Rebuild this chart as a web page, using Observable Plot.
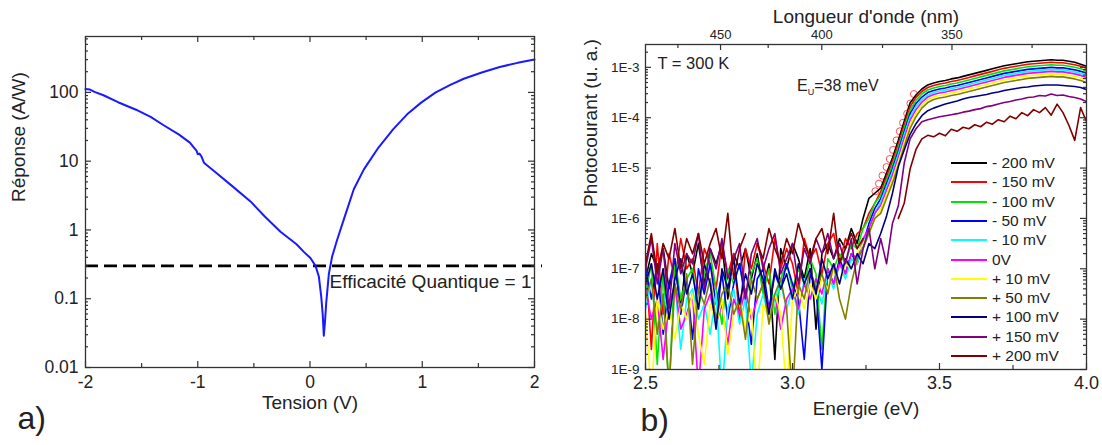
<!DOCTYPE html>
<html><head><meta charset="utf-8">
<script src="https://cdn.jsdelivr.net/npm/d3@7"></script>
<script src="https://cdn.jsdelivr.net/npm/@observablehq/plot@0.6"></script>
<style>
body{margin:0;background:#fff;}
#fig{position:relative;width:1102px;height:445px;overflow:hidden;background:#fff;font-family:'Liberation Sans',Arial,sans-serif;color:#222;}
.panel{position:absolute;top:0;}
.lrow{position:absolute;left:951px;height:20px;display:flex;align-items:center;font-size:15.5px;white-space:nowrap;}
.lrow .sw{display:inline-block;width:36px;height:2px;margin-right:5px;}
#eu{position:absolute;left:797px;top:77px;font-size:16px;line-height:18px;white-space:nowrap;}
#eu sub{font-size:9px;vertical-align:-4px;line-height:0;}
</style></head><body><div id="fig"></div>
<script>
// ---------- Panel a : responsivity vs bias ----------
const tension  = [-2.00,-1.96,-1.92,-1.84,-1.71,-1.55,-1.42,-1.30,-1.17,-1.07,-1.025,-1.01,-1.00,-0.985,-0.967,-0.945,-0.85,-0.69,-0.53,-0.405,-0.263,-0.18,-0.12,-0.055,0.004,0.049,0.079,0.10,0.113,0.123,0.133,0.144,0.168,0.197,0.242,0.30,0.39,0.48,0.61,0.74,0.865,0.99,1.12,1.25,1.37,1.53,1.69,1.85,2.00];
const response = [112,110,102,91,72,56,44,33,24.5,18.6,15.1,14.1,12.6,12.9,11.7,9.5,7.1,4.3,2.6,1.58,0.94,0.74,0.62,0.48,0.39,0.30,0.21,0.107,0.06,0.029,0.045,0.085,0.23,0.41,0.72,1.4,3.9,7.6,15.8,29,48,71,100,129,158,195,234,269,300];
const qeLevel = [0.3];
const tensionTicks = [-2,-1,0,1,2];
const tensionTickLabels = ["-2","-1","0","1","2"];
const tensionMinor = [-1.5,-0.5,0.5,1.5];
const respTicks = [0.01,0.1,1,10,100];
const respTickLabels = ["0.01","0.1","1","10","100"];

// ---------- Panel b : photocurrent spectra (log10 values) ----------
const energy = [2.50,2.52,2.54,2.56,2.58,2.60,2.62,2.64,2.66,2.68,
2.70,2.72,2.74,2.76,2.78,2.80,2.82,2.84,2.86,2.88,
2.90,2.92,2.94,2.96,2.98,3.00,3.02,3.04,3.06,3.08,
3.10,3.12,3.14,3.16,3.18,3.20,3.22,3.24,3.26,3.28,
3.30,3.32,3.34,3.36,3.38,3.40,3.42,3.44,3.46,3.48,
3.50,3.52,3.54,3.56,3.58,3.60,3.62,3.64,3.66,3.68,
3.70,3.72,3.74,3.76,3.78,3.80,3.82,3.84,3.86,3.88,
3.90,3.92,3.94,3.96,3.98,4.00];
const biasLabels = ["- 200 mV","- 150 mV","- 100 mV","- 50 mV","- 10 mV","0V","+ 10 mV","+ 50 mV","+ 100 mV","+ 150 mV","+ 200 mV"];
const biasColors = ["#000000","#ff0000","#00e600","#0000ff","#00ffff","#ff00ff","#ffff00","#808000","#000080","#800080","#800000"];

const pcM200 = [-7.2,-6.7,-7.0,-6.6,-7.4,-6.9,-7.8,-6.7,-7.1,-6.5,-7.3,-6.6,-6.9,-6.5,-7.6,-6.7,-7.0,-6.6,-7.2,-6.7,
-7.4,-6.9,-8.8,-6.6,-7.0,-6.5,-6.8,-7.2,-6.6,-8.2,-6.7,-6.5,-6.8,-6.4,-6.6,-6.2,-6.5,-6.0,-5.6,-5.5,
-5.40,-5.10,-4.80,-4.45,-4.07,-3.71,-3.55,-3.43,-3.35,-3.31,-3.28,-3.26,-3.23,-3.21,-3.18,-3.15,-3.12,-3.09,-3.06,-3.03,
-3.00,-2.97,-2.95,-2.93,-2.91,-2.89,-2.88,-2.87,-2.86,-2.85,-2.86,-2.86,-2.88,-2.90,-2.94,-2.98];
const pcM150 = [-6.8,-8.6,-6.5,-7.9,-6.7,-7.2,-6.4,-7.0,-6.8,-7.5,-6.6,-6.9,-7.4,-6.5,-7.1,-6.7,-8.0,-6.6,-7.0,-6.5,
-6.9,-7.3,-6.4,-7.0,-6.6,-6.9,-7.5,-6.4,-6.8,-6.6,-7.1,-6.5,-6.3,-6.9,-6.4,-6.6,-6.3,-6.2,-5.9,-5.7,
-5.47,-5.17,-4.87,-4.52,-4.14,-3.78,-3.60,-3.48,-3.40,-3.36,-3.33,-3.31,-3.28,-3.26,-3.23,-3.20,-3.17,-3.14,-3.11,-3.08,
-3.05,-3.02,-3.00,-2.98,-2.96,-2.94,-2.93,-2.92,-2.91,-2.90,-2.91,-2.91,-2.93,-2.95,-2.98,-3.02];
const pcM100 = [-7.5,-6.9,-8.9,-7.0,-9.5,-6.8,-7.6,-7.2,-7.0,-7.8,-7.1,-6.7,-7.4,-8.1,-7.0,-7.3,-6.9,-7.6,-7.1,-6.8,
-7.5,-7.0,-7.9,-7.2,-6.9,-7.4,-7.0,-7.3,-6.8,-7.1,-8.6,-6.8,-7.0,-6.7,-6.9,-6.5,-6.6,-6.2,-6.0,-5.7,
-5.54,-5.24,-4.94,-4.59,-4.21,-3.85,-3.66,-3.53,-3.45,-3.41,-3.38,-3.36,-3.33,-3.31,-3.28,-3.25,-3.22,-3.19,-3.16,-3.13,
-3.10,-3.07,-3.05,-3.03,-3.01,-2.99,-2.98,-2.97,-2.96,-2.95,-2.96,-2.96,-2.98,-3.00,-3.03,-3.07];
const pcM50 = [-7.0,-7.6,-6.9,-8.3,-7.3,-6.8,-7.9,-7.2,-8.4,-7.0,-7.5,-6.9,-7.7,-7.1,-8.0,-7.3,-6.9,-7.6,-8.5,-7.2,
-7.0,-7.8,-7.1,-7.4,-6.9,-7.3,-7.6,-8.8,-7.1,-7.4,-9.0,-7.0,-7.3,-6.8,-7.1,-6.7,-6.9,-6.5,-6.1,-5.8,
-5.61,-5.31,-5.01,-4.66,-4.28,-3.92,-3.72,-3.59,-3.50,-3.46,-3.43,-3.41,-3.38,-3.36,-3.33,-3.30,-3.27,-3.24,-3.21,-3.18,
-3.15,-3.12,-3.10,-3.08,-3.06,-3.04,-3.03,-3.02,-3.01,-3.00,-3.01,-3.01,-3.03,-3.05,-3.08,-3.12];
const pcM10 = [-7.8,-7.2,-8.2,-7.5,-7.9,-7.3,-8.6,-7.6,-7.4,-8.0,-7.7,-8.3,-7.5,-9.5,-7.8,-7.4,-8.1,-7.6,-9.3,-7.9,
-7.5,-8.0,-7.6,-7.3,-7.8,-7.4,-7.9,-7.2,-7.6,-7.3,-7.7,-7.1,-7.4,-6.9,-7.2,-6.8,-6.9,-6.5,-6.2,-5.9,
-5.67,-5.37,-5.07,-4.72,-4.34,-3.98,-3.78,-3.64,-3.55,-3.50,-3.47,-3.45,-3.42,-3.40,-3.37,-3.34,-3.31,-3.28,-3.25,-3.22,
-3.19,-3.16,-3.14,-3.12,-3.10,-3.08,-3.07,-3.06,-3.05,-3.04,-3.05,-3.05,-3.07,-3.09,-3.12,-3.16];
const pc0 = [-7.4,-8.0,-7.6,-8.8,-7.7,-7.3,-8.2,-7.9,-7.5,-9.4,-7.8,-7.5,-8.1,-7.7,-8.5,-7.6,-7.9,-7.4,-8.0,-7.6,
-7.3,-7.8,-7.5,-8.2,-7.6,-7.4,-7.8,-7.3,-7.6,-7.2,-7.5,-7.0,-7.3,-6.9,-7.1,-6.7,-6.8,-6.4,-6.2,-5.9,
-5.74,-5.44,-5.14,-4.79,-4.41,-4.05,-3.84,-3.69,-3.59,-3.54,-3.51,-3.49,-3.46,-3.44,-3.41,-3.38,-3.35,-3.32,-3.29,-3.26,
-3.23,-3.20,-3.18,-3.16,-3.14,-3.12,-3.11,-3.10,-3.09,-3.08,-3.09,-3.09,-3.11,-3.13,-3.16,-3.20];
const pcP10 = [-7.9,-9.5,-7.6,-8.2,-7.8,-8.4,-7.7,-8.0,-7.5,-8.3,-8.9,-7.7,-8.1,-7.6,-8.7,-7.9,-7.6,-8.2,-7.8,-9.6,
-7.7,-8.0,-7.5,-7.9,-9.5,-7.6,-7.4,-7.8,-7.3,-7.6,-7.2,-7.4,-7.0,-7.3,-6.9,-7.0,-6.7,-6.5,-6.3,-6.0,
-5.82,-5.52,-5.22,-4.87,-4.49,-4.13,-3.91,-3.75,-3.64,-3.59,-3.56,-3.54,-3.51,-3.49,-3.46,-3.43,-3.40,-3.37,-3.34,-3.31,
-3.28,-3.25,-3.23,-3.21,-3.19,-3.17,-3.16,-3.15,-3.14,-3.13,-3.14,-3.14,-3.16,-3.18,-3.21,-3.25];
const pcP50 = [-7.6,-7.2,-8.3,-7.5,-9.4,-7.3,-7.8,-7.1,-8.9,-7.4,-7.7,-7.2,-8.0,-7.5,-7.3,-7.9,-7.6,-8.4,-7.2,-7.6,
-7.3,-8.1,-7.5,-7.2,-7.8,-9.6,-7.3,-7.6,-7.0,-7.4,-7.1,-7.5,-6.9,-7.6,-8.0,-7.3,-6.8,-6.6,-6.3,-6.0,
-5.90,-5.60,-5.30,-4.95,-4.57,-4.21,-3.98,-3.81,-3.70,-3.64,-3.61,-3.59,-3.56,-3.54,-3.51,-3.48,-3.45,-3.42,-3.39,-3.36,
-3.33,-3.30,-3.28,-3.26,-3.24,-3.22,-3.21,-3.20,-3.19,-3.18,-3.19,-3.19,-3.21,-3.23,-3.26,-3.30];
const pcP100 = [-7.3,-6.9,-7.6,-7.0,-8.0,-7.2,-6.8,-7.5,-7.1,-7.8,-6.9,-7.3,-8.2,-7.0,-7.4,-6.8,-7.7,-7.1,-7.5,-6.9,
-7.2,-7.9,-7.0,-7.4,-7.1,-7.6,-6.9,-7.3,-7.0,-7.5,-6.8,-7.2,-6.9,-7.3,-6.8,-7.0,-6.7,-6.9,-6.5,-6.6,
-6.30,-5.95,-5.50,-4.97,-4.64,-4.33,-4.12,-3.96,-3.86,-3.81,-3.77,-3.73,-3.70,-3.67,-3.63,-3.60,-3.58,-3.56,-3.54,-3.51,
-3.49,-3.46,-3.44,-3.42,-3.40,-3.39,-3.37,-3.36,-3.35,-3.35,-3.35,-3.36,-3.37,-3.38,-3.40,-3.44];
const pcP150 = [-7.0,-6.4,-7.3,-6.6,-7.8,-6.5,-7.1,-6.7,-6.9,-6.3,-7.4,-6.6,-7.0,-6.4,-7.2,-6.8,-6.5,-7.6,-6.7,-6.4,
-7.0,-6.6,-6.3,-7.1,-6.8,-6.5,-7.3,-6.6,-6.9,-6.4,-6.7,-6.3,-6.8,-6.5,-6.9,-6.4,-7.3,-6.6,-6.2,-7.0,
-6.4,-6.9,-6.1,-5.75,-4.9,-4.42,-4.22,-4.08,-4.04,-4.01,-3.98,-3.96,-3.94,-3.92,-3.89,-3.87,-3.84,-3.82,-3.78,-3.76,
-3.73,-3.70,-3.68,-3.65,-3.63,-3.60,-3.59,-3.56,-3.57,-3.53,-3.56,-3.55,-3.58,-3.60,-3.63,-3.68];
const pcP200 = [-6.9,-6.3,-7.1,-6.5,-6.8,-6.2,-7.0,-6.4,-6.7,-6.3,-6.9,-6.5,-6.2,-6.8,-5.9,-7.2,-6.6,-6.3,null,-6.5,
-6.8,-6.2,-6.6,-6.9,-6.4,-6.7,-6.1,-6.5,-6.8,-6.4,-6.2,-6.7,-5.9,-6.9,-6.6,-6.3,-6.6,-6.4,null,null,
null,null,null,-6.0,-5.7,-5.02,-4.63,-4.42,-4.35,-4.38,-4.31,-4.36,-4.23,-4.27,-4.19,-4.22,-4.14,-4.18,-4.09,-4.13,
-4.04,-4.08,-3.97,-4.02,-3.90,-3.96,-3.84,-3.90,-3.80,-3.95,-3.73,-3.90,-4.15,-4.45,-3.80,-4.08];
const pcSeries = [pcM200,pcM150,pcM100,pcM50,pcM10,pc0,pcP10,pcP50,pcP100,pcP150,pcP200];

// Urbach-tail fit markers (red circles)
const urbachE   = [3.282,3.294,3.306,3.320,3.331,3.342,3.354,3.365,3.376,3.390,3.401,3.413];
const urbachLog = [-5.46,-5.31,-5.15,-4.98,-4.82,-4.64,-4.45,-4.27,-4.10,-3.92,-3.72,-3.53];

const energyTicks = [2.5,3.0,3.5,4.0];
const energyTickLabels = ["2.5","3.0","3.5","4.0"];
const energyMinor = [2.75,3.25,3.75];
const wavelengthTicks = [450,400,350];
const wavelengthMinor = [475,425,375,325];
const pcTicks = [1e-9,1e-8,1e-7,1e-6,1e-5,1e-4,1e-3];
const pcTickLabels = ["1E-9","1E-8","1E-7","1E-6","1E-5","1E-4","1E-3"];
const HC = 1239.84;

// ---------- drawing ----------
const FONT = "'Liberation Sans', Arial, sans-serif";
const TK = {stroke: "#333", strokeWidth: 1.2};
const minorLog = (decades, max) => decades.flatMap(d => [2,3,4,5,6,7,8,9].map(k => k * d)).filter(v => v < max);

function frameTicks(fw, fh, xMaj, xMin, yMaj, yMin, extraTop) {
  const m = [
    Plot.ruleX(xMaj, {...TK, insetTop: fh - 6}),
    Plot.ruleX(xMin, {...TK, insetTop: fh - 4}),
    Plot.ruleY(yMaj, {...TK, insetRight: fw - 6}),
    Plot.ruleY(yMaj, {...TK, insetLeft: fw - 6}),
    Plot.ruleY(yMin, {...TK, insetRight: fw - 3}),
    Plot.ruleY(yMin, {...TK, insetLeft: fw - 3})
  ];
  if (extraTop) m.push(...extraTop);
  else m.push(Plot.ruleX(xMaj, {...TK, insetBottom: fh - 6}), Plot.ruleX(xMin, {...TK, insetBottom: fh - 4}));
  return m;
}

const fig = document.getElementById("fig");

// Panel a
{
  const W = 551, H = 445, ml = 85, mr = 17, mt = 36, mb = 78;
  const fw = W - ml - mr, fh = H - mt - mb;
  const yMax = 650;
  const rows = tension.map((v, i) => ({v, r: response[i]}));
  const svg = Plot.plot({
    width: W, height: H, marginLeft: ml, marginRight: mr, marginTop: mt, marginBottom: mb,
    x: {domain: [-2, 2]},
    y: {type: "log", domain: [0.01, yMax]},
    style: {fontFamily: FONT, color: "#222", background: "transparent", overflow: "visible"},
    marks: [
      Plot.ruleY(qeLevel, {stroke: "#000", strokeWidth: 2.6, strokeDasharray: "13,6", insetRight: -8}),
      Plot.line(rows, {x: "v", y: "r", stroke: "#1a1aff", strokeWidth: 2}),
      Plot.text(["Efficacité Quantique = 1"], {y: qeLevel, frameAnchor: "right", textAnchor: "end", dx: -3, dy: 16, fontSize: 19, fill: "#222"}),
      ...frameTicks(fw, fh, tensionTicks, tensionMinor, respTicks, minorLog(respTicks, yMax)),
      Plot.frame({stroke: "#333", strokeWidth: 1.3}),
      Plot.axisX(tensionTicks, {anchor: "bottom", tickSize: 0, tickPadding: 8, tickFormat: d => tensionTickLabels[tensionTicks.indexOf(d)], fontSize: 17.5, label: null}),
      Plot.axisY(respTicks, {anchor: "left", tickSize: 0, tickPadding: 7, tickFormat: d => respTickLabels[respTicks.indexOf(d)], fontSize: 17.5, label: null}),
      Plot.text(["Tension (V)"], {frameAnchor: "bottom", dy: 41, fontSize: 19, fill: "#222"}),
      Plot.text(["Réponse (A/W)"], {frameAnchor: "left", dx: -67, rotate: -90, fontSize: 19, fill: "#222"}),
      Plot.text(["a)"], {frameAnchor: "bottom-left", dx: -68, dy: 61, textAnchor: "start", fontSize: 32, fill: "#222"})
    ]
  });
  const d = document.createElement("div"); d.className = "panel"; d.style.left = "0px";
  d.appendChild(svg); fig.appendChild(d);
}

// Panel b
{
  const W = 551, H = 445, ml = 94, mr = 16, mt = 44, mb = 76;
  const fw = W - ml - mr, fh = H - mt - mb;
  const yMax = 2.84e-3;
  const rows = [];
  pcSeries.forEach((arr, s) => arr.forEach((v, i) => rows.push({E: energy[i], P: v == null ? NaN : Math.pow(10, v), s: biasLabels[s]})));
  const urbach = urbachE.map((e, i) => ({E: e, P: Math.pow(10, urbachLog[i])}));
  const wlE = wavelengthTicks.map(w => HC / w);
  const wlMinE = wavelengthMinor.map(w => HC / w);
  const svg = Plot.plot({
    width: W, height: H, marginLeft: ml, marginRight: mr, marginTop: mt, marginBottom: mb,
    x: {domain: [2.5, 4.0]},
    y: {type: "log", domain: [1e-9, yMax]},
    color: {domain: biasLabels, range: biasColors},
    style: {fontFamily: FONT, color: "#222", background: "transparent", overflow: "visible"},
    marks: [
      Plot.dot(urbach, {x: "E", y: "P", r: 3.5, stroke: "#ff5050", strokeWidth: 1, fill: "none"}),
      Plot.line(rows, {x: "E", y: "P", z: "s", stroke: "s", strokeWidth: 1.6, clip: true}),
      ...frameTicks(fw, fh, energyTicks, energyMinor, pcTicks, minorLog(pcTicks, yMax), [
        Plot.ruleX(wlE, {...TK, insetBottom: fh - 6}),
        Plot.ruleX(wlMinE, {...TK, insetBottom: fh - 4})
      ]),
      Plot.frame({stroke: "#333", strokeWidth: 1.3}),
      Plot.axisX(energyTicks, {anchor: "bottom", tickSize: 0, tickPadding: 7, tickFormat: d => energyTickLabels[energyTicks.indexOf(d)], fontSize: 18, label: null}),
      Plot.axisX(wlE, {anchor: "top", tickSize: 0, tickPadding: 6, tickFormat: d => String(Math.round(HC / d)), fontSize: 13, label: null}),
      Plot.axisY(pcTicks, {anchor: "left", tickSize: 0, tickPadding: 6, tickFormat: d => pcTickLabels[pcTicks.indexOf(d)], fontSize: 13.5, label: null}),
      Plot.text(["T = 300 K"], {frameAnchor: "top-left", dx: 12, dy: 13, textAnchor: "start", fontSize: 16.5, fill: "#222"}),
      Plot.text(["Energie (eV)"], {frameAnchor: "bottom", dy: 45, fontSize: 19, fill: "#222"}),
      Plot.text(["Longueur d'onde (nm)"], {frameAnchor: "top", dy: -35, fontSize: 19, fill: "#222"}),
      Plot.text(["Photocourant (u. a.)"], {frameAnchor: "left", dx: -55, rotate: -90, fontSize: 19, fill: "#222"}),
      Plot.text(["b)"], {frameAnchor: "bottom-left", dx: -5, dy: 61, textAnchor: "start", fontSize: 32, fill: "#222"})
    ]
  });
  const d = document.createElement("div"); d.className = "panel"; d.style.left = "551px";
  d.appendChild(svg); fig.appendChild(d);

  // E_U annotation
  const eu = document.createElement("div"); eu.id = "eu";
  eu.innerHTML = "E<sub>U</sub>=38 meV";
  fig.appendChild(eu);

  // legend (rows at whole-pixel positions)
  biasLabels.forEach((lab, i) => {
    const row = document.createElement("div"); row.className = "lrow";
    row.style.top = Math.round(153 + 19.3 * i) + "px";
    const sw = document.createElement("span"); sw.className = "sw"; sw.style.background = biasColors[i];
    const tx = document.createElement("span"); tx.textContent = lab;
    row.appendChild(sw); row.appendChild(tx); fig.appendChild(row);
  });
}
</script></body></html>
